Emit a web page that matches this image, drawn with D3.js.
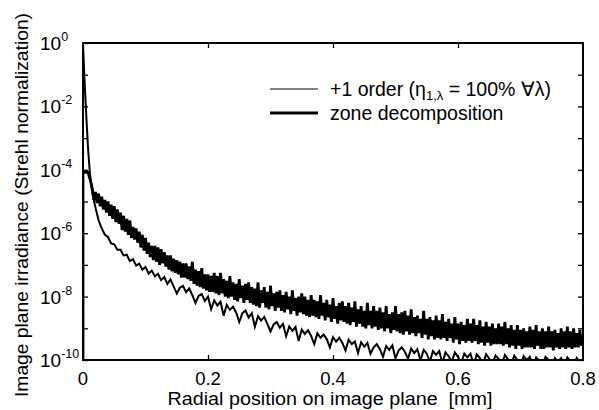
<!DOCTYPE html>
<html>
<head>
<meta charset="utf-8">
<script src="https://cdn.jsdelivr.net/npm/d3@7"></script>
<style>
  body { margin: 0; background: #fff; }
  text { font-family: "Liberation Sans", Arial, sans-serif; fill: #000; }
</style>
</head>
<body>
<svg width="599" height="410"></svg>
<script>
// radial sample grids (mm); the zone decomposition trace is sampled twice as densely
const gridStart = 0.015, thinStep = 0.005, thickStep = 0.0025;

// log10 irradiance, one value per grid step
const thickLog = [
  -4.6, -4.95, -4.7, -5.05, -4.75, -5.15, -4.85, -5.25, -4.95, -5.35, -5.0, -5.45, -5.1, -5.55, -5.15, -5.65, -5.25, -5.7, -5.35, -5.9,
  -5.45, -5.95, -5.55, -6.05, -5.6, -6.15, -5.8, -6.2, -5.85, -6.3, -5.95, -6.45, -6.05, -6.55, -6.15, -6.65, -6.3, -6.75, -6.4, -6.85,
  -6.4, -6.9, -6.45, -7.0, -6.5, -6.95, -6.6, -7.05, -6.7, -7.15, -6.7, -7.2, -6.8, -7.25, -6.85, -7.3, -6.9, -7.4, -6.95, -7.4,
  -6.95, -7.45, -7.05, -7.5, -6.9, -7.6, -7.15, -7.65, -7.2, -7.7, -7.1, -7.75, -7.3, -7.8, -7.3, -7.85, -7.35, -7.85, -7.25, -7.9,
  -7.35, -7.95, -7.25, -7.9, -7.45, -8.0, -7.5, -8.05, -7.35, -8.0, -7.55, -8.1, -7.6, -8.15, -7.45, -8.05, -7.65, -8.2, -7.6, -8.1,
  -7.55, -8.2, -7.7, -8.25, -7.75, -8.3, -7.55, -8.35, -7.8, -8.2, -7.7, -8.35, -7.85, -8.4, -7.65, -8.3, -7.9, -8.45, -7.85, -8.35,
  -7.8, -8.45, -7.95, -8.5, -7.85, -8.4, -8.0, -8.55, -7.8, -8.45, -8.05, -8.6, -8.0, -8.5, -7.9, -8.55, -8.0, -8.6, -8.1, -8.65,
  -7.95, -8.6, -8.1, -8.65, -8.15, -8.7, -7.95, -8.6, -8.2, -8.75, -8.1, -8.65, -8.25, -8.8, -8.05, -8.7, -8.3, -8.85, -8.2, -8.75,
  -8.15, -8.8, -8.3, -8.85, -8.2, -8.9, -8.35, -8.8, -8.15, -8.95, -8.4, -8.85, -8.3, -8.95, -8.45, -9.0, -8.2, -8.9, -8.45, -9.0,
  -8.3, -8.95, -8.45, -9.05, -8.35, -9.0, -8.5, -9.1, -8.3, -9.0, -8.55, -9.15, -8.5, -9.05, -8.3, -9.1, -8.55, -9.15, -8.5, -9.2,
  -8.45, -9.1, -8.6, -9.2, -8.4, -9.15, -8.65, -9.25, -8.6, -9.15, -8.7, -9.3, -8.45, -9.2, -8.7, -9.35, -8.65, -9.25, -8.75, -9.35,
  -8.6, -9.3, -8.75, -9.35, -8.55, -9.3, -8.8, -9.4, -8.7, -9.3, -8.85, -9.45, -8.65, -9.35, -8.85, -9.5, -8.8, -9.4, -8.9, -9.45,
  -8.7, -9.4, -8.85, -9.45, -8.7, -9.4, -8.9, -9.5, -8.75, -9.45, -8.95, -9.55, -8.8, -9.45, -8.95, -9.55, -8.85, -9.5, -9.0, -9.5,
  -8.85, -9.5, -8.95, -9.55, -8.8, -9.5, -9.0, -9.6, -8.9, -9.55, -9.05, -9.65, -8.9, -9.55, -9.05, -9.65, -9.0, -9.6, -9.1, -9.6,
  -8.95, -9.6, -9.05, -9.65, -8.9, -9.55, -9.1, -9.65, -9.0, -9.65, -9.1, -9.6, -8.95, -9.6, -9.1, -9.7, -9.05, -9.6, -9.15, -9.65,
  -9.0, -9.6, -9.1, -9.65, -8.95, -9.6, -9.1, -9.65, -9.0, -9.6, -9.15, -9.6, -9.05, -9.55, -9.3
];
const thinLog = [
  -4.75, -5.2, -5.6, -5.85, -6.05, -6.12, -6.32, -6.35, -6.52, -6.52,
  -6.7, -6.68, -6.88, -6.82, -7.02, -6.96, -7.15, -7.06, -7.28, -7.18,
  -7.36, -7.28, -7.48, -7.38, -7.6, -7.46, -7.68, -7.9, -7.72, -7.66,
  -7.86, -7.74, -7.96, -8.2, -7.98, -7.92, -8.14, -8.0, -8.4, -8.12,
  -8.28, -8.16, -8.6, -8.26, -8.42, -8.32, -8.5, -8.8, -8.52, -8.44,
  -8.66, -8.52, -8.95, -8.62, -8.76, -8.64, -8.86, -9.1, -8.88, -8.8,
  -8.98, -8.86, -9.25, -8.94, -9.08, -8.96, -9.4, -9.04, -9.18, -9.06,
  -9.24, -9.5, -9.16, -9.3, -9.2, -9.34, -9.6, -9.28, -9.42, -9.3,
  -9.46, -9.7, -9.36, -9.5, -9.42, -9.78, -9.44, -9.58, -9.46, -9.8,
  -9.6, -9.5, -9.66, -9.9, -9.56, -9.68, -9.54, -9.95, -9.7, -9.6,
  -9.74, -9.96, -9.64, -9.78, -9.66, -10.02, -9.68, -9.8, -10.05, -9.72,
  -9.84, -9.72, -10.1, -9.76, -9.88, -10.06, -9.76, -9.9, -10.12, -9.8,
  -9.92, -9.8, -10.15, -9.82, -9.94, -10.14, -9.82, -9.96, -10.12, -9.86,
  -9.96, -10.16, -9.84, -9.98, -10.14, -9.86, -10.0, -10.2, -9.88, -10.0,
  -9.9, -10.2, -9.92, -10.02, -10.16, -9.9, -10.0, -10.25, -9.94, -10.04,
  -9.94, -10.2, -9.92, -10.04, -10.25, -9.94, -10.06, -9.98
];

// the steep central peak, before the grid starts: [x mm, log10 I]
const thinHead = [[0, 0], [0.002, -1.0], [0.005, -2.2], [0.008, -3.3], [0.011, -4.1], [0.013, -4.45]];
const thickHead = [[0, -10.5], [0, -4.08], [0.008, -4.08], [0.012, -4.35]];

const xTicks = [0, 0.2, 0.4, 0.6, 0.8];
const xInner = [0.2, 0.4, 0.6];
const yLabelExp = [0, -2, -4, -6, -8, -10];
const yTickExp = [0, -1, -2, -3, -4, -5, -6, -7, -8, -9, -10];

const legendItems = [
  { label: "+1 order", width: 1 },
  { label: "zone decomposition", width: 3 }
];

const margin = { top: 43, right: 16, bottom: 50, left: 83 },
    W = 599, H = 410,
    w = W - margin.left - margin.right,
    h = H - margin.top - margin.bottom;

const svg = d3.select("svg");
const g = svg.append("g").attr("transform", `translate(${margin.left},${margin.top})`);

const x = d3.scaleLinear().domain([0, 0.8]).range([0, w]);
const y = d3.scaleLog().domain([1e-10, 1]).range([h, 0]);

function toSeries(head, logs, step) {
  const pts = head.map(d => ({ x: d[0], v: Math.pow(10, d[1]) }));
  logs.forEach((v, i) => pts.push({ x: gridStart + i * step, v: Math.pow(10, v) }));
  return pts;
}
const thin = toSeries(thinHead, thinLog, thinStep);
const thick = toSeries(thickHead, thickLog, thickStep);

g.append("clipPath").attr("id", "clip")
  .append("rect").attr("x", -1).attr("y", 0).attr("width", w + 1).attr("height", h);

const line = d3.line().x(d => x(d.x)).y(d => y(d.v));

g.append("path").datum(thin)
  .attr("clip-path", "url(#clip)")
  .attr("fill", "none").attr("stroke", "#000").attr("stroke-width", 2)
  .attr("d", line);

g.append("path").datum(thick)
  .attr("clip-path", "url(#clip)")
  .attr("fill", "none").attr("stroke", "#000").attr("stroke-width", 2.8)
  .attr("d", line);

// axes with inward ticks
const yVals = yTickExp.map(e => Math.pow(10, e));
function styleAxis(sel) {
  sel.select(".domain").remove();
  sel.selectAll("line").attr("stroke", "#000").attr("stroke-width", 1.3);
}
g.append("g").call(d3.axisLeft(y).tickValues(yVals).tickSizeInner(-5).tickSizeOuter(0).tickFormat("")).call(styleAxis);
g.append("g").attr("transform", `translate(${w},0)`)
  .call(d3.axisRight(y).tickValues(yVals).tickSizeInner(-5).tickSizeOuter(0).tickFormat("")).call(styleAxis);
g.append("g").attr("transform", `translate(0,${h})`)
  .call(d3.axisBottom(x).tickValues(xInner).tickSizeInner(-5).tickSizeOuter(0).tickFormat("")).call(styleAxis);
g.append("g")
  .call(d3.axisTop(x).tickValues(xInner).tickSizeInner(-5).tickSizeOuter(0).tickFormat("")).call(styleAxis);

g.append("rect").attr("width", w).attr("height", h)
  .attr("fill", "none").attr("stroke", "#000").attr("stroke-width", 2);

// tick labels
g.selectAll(".xl").data(xTicks).join("text")
  .attr("x", d => x(d)).attr("y", h + 25)
  .attr("text-anchor", "middle").attr("font-size", 18.5)
  .text(d => d === 0 ? "0" : d.toFixed(1));

const yl = g.selectAll(".yl").data(yLabelExp).join("text")
  .attr("x", -43).attr("y", d => y(Math.pow(10, d)) + 7)
  .attr("font-size", 19);
yl.append("tspan").text("10");
yl.append("tspan").attr("dy", -9).attr("font-size", 12.5).text(d => d === 0 ? "0" : "-" + (-d));

// axis titles
svg.append("text")
  .attr("transform", "translate(28,205) rotate(-90)")
  .attr("text-anchor", "middle").attr("font-size", 18.5)
  .attr("textLength", 384).attr("lengthAdjust", "spacingAndGlyphs")
  .text("Image plane irradiance (Strehl normalization)");
svg.append("text")
  .attr("x", 330).attr("y", 405)
  .attr("text-anchor", "middle").attr("font-size", 17.5)
  .attr("textLength", 325).attr("lengthAdjust", "spacingAndGlyphs")
  .attr("xml:space", "preserve")
  .text("Radial position on image plane  [mm]");

// legend
const lg = g.selectAll(".lg").data(legendItems).join("g")
  .attr("transform", (d, i) => `translate(187,${46 + i * 24})`);
lg.append("line").attr("x1", 0).attr("x2", 48)
  .attr("stroke", "#000").attr("stroke-width", d => d.width);
const lt = lg.append("text").attr("x", 60).attr("y", 7).attr("font-size", 19.5);
lt.append("tspan").text(d => d.label);
lt.filter((d, i) => i === 0).each(function () {
  const t = d3.select(this);
  t.append("tspan").text(" (η");
  t.append("tspan").attr("font-size", 13).attr("dy", 4).text("1,λ");
  t.append("tspan").attr("dy", -4).text(" = 100% ∀λ)");
});
</script>
</body>
</html>
